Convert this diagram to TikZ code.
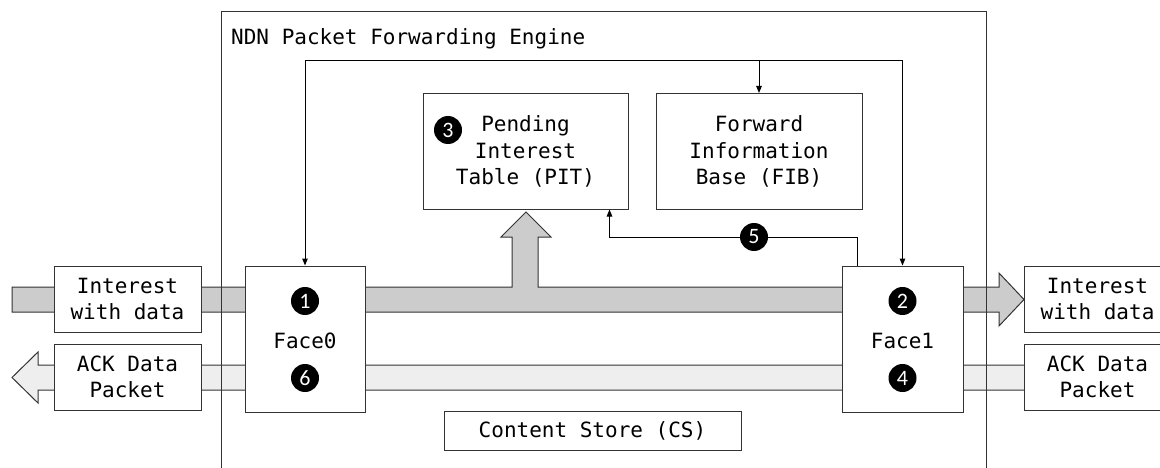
\documentclass[tikz,border=0pt]{standalone}
\usepackage{fontspec}
\setmonofont{DejaVu Sans Mono}
\newfontfamily\numfont{Carlito}
\usetikzlibrary{arrows.meta,calc}
\definecolor{bandA}{HTML}{CCCCCC}
\definecolor{bandB}{HTML}{EEEEEE}
\definecolor{edge}{HTML}{333333}
\begin{document}
\begin{tikzpicture}[x=1pt,y=-1pt,
  >={Triangle[length=7pt,width=5.5pt]},
  lbl/.style={font=\ttfamily\fontsize{21}{26.5}\selectfont},
  box/.style={draw=edge,fill=white,line width=1pt,inner sep=0,align=center,lbl},
  band/.style={draw=edge,line width=1pt},
  num/.style={circle,fill=black,text=white,minimum size=28pt,inner sep=0,font=\numfont\fontsize{22}{22}\selectfont},
  conn/.style={draw=black,line width=1pt}]
\clip (0,0) rectangle (1160,468);
\fill[white] (0,0) rectangle (1160,468);
% bands
\draw[band,fill=bandA] (12,287) -- (512,287) -- (512,237) -- (501,237) -- (526,212) -- (551,237) -- (538,237) -- (538,287) -- (999,287) -- (999,273) -- (1024,299.5) -- (999,326) -- (999,312) -- (12,312) -- cycle;
\draw[band,fill=bandB] (1171,365) -- (38,365) -- (38,352) -- (12,377.5) -- (38,403) -- (38,390) -- (1171,390) -- cycle;
% engine
\node[draw=edge,line width=1pt,minimum width=765pt,minimum height=520pt,anchor=north west,inner sep=0] (engine) at (221,11) {};
\node[lbl,anchor=base west,inner sep=0] (title) at (231,45) {NDN Packet Forwarding Engine};
% boxes
\node[box,minimum width=120pt,minimum height=146pt] (face0) at (305,339) {};
\node[box,minimum width=121pt,minimum height=146pt] (face1) at (902.5,339) {};
\node[lbl] (face0t) at (305,341) {Face0};
\node[lbl] (face1t) at (902.5,341) {Face1};
\node[box,minimum width=147pt,minimum height=66pt] (inL) at (127.5,299) {Interest\\with data};
\node[box,minimum width=147pt,minimum height=66pt] (ackL) at (127.5,377) {ACK Data\\Packet};
\node[box,minimum width=147pt,minimum height=66pt] (inR) at (1097.5,299) {Interest\\with data};
\node[box,minimum width=147pt,minimum height=66pt] (ackR) at (1097.5,377) {ACK Data\\Packet};
\node[box,minimum width=205pt,minimum height=115pt] (pit) at (525.5,151.5) {Pending\\Interest\\Table (PIT)};
\node[box,minimum width=206pt,minimum height=116pt] (fib) at (759,151.5) {Forward\\Information\\Base (FIB)};
\node[box,minimum width=297pt,minimum height=39pt] (cs) at (592.5,430.5) {Content Store (CS)};
% connectors
\coordinate (tl) at (305,61);
\coordinate (tr) at (902.5,61);
\coordinate (tj) at (759,61);
\draw[conn,<->] (face0.north) -- (tl) -- (tr) -- (face1.north);
\draw[conn,->] (tj) -- (fib.north);
\coordinate (f5) at ($(face1.north west)+(16,0)$);
\coordinate (p5) at ($(pit.south east)+(-19,0)$);
\coordinate (c5) at (754,237);
\draw[conn,->] (f5) -- (f5 |- c5) -- (p5 |- c5) -- (p5);
% step numbers
\node[num] (n1) at (305,301) {1};
\node[num] (n6) at (305,378) {6};
\node[num] (n2) at (902.5,301) {2};
\node[num] (n4) at (902.5,378) {4};
\node[num] (n3) at (448,130) {3};
\node[num] (n5) at (c5) {5};
\end{tikzpicture}
\end{document}
